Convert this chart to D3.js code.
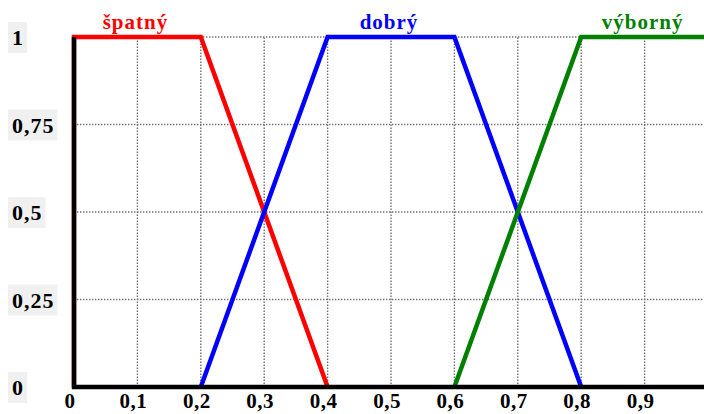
<!DOCTYPE html>
<html><head><meta charset="utf-8">
<script src="https://cdn.jsdelivr.net/npm/d3@7"></script>
<style>body{margin:0;background:#fff}svg{display:block}</style>
</head><body>
<svg id="c" width="704" height="414"></svg>
<script>
const xTicks = [0,0.1,0.2,0.3,0.4,0.5,0.6,0.7,0.8,0.9];
const xTickLabels = ["0","0,1","0,2","0,3","0,4","0,5","0,6","0,7","0,8","0,9"];
const yTicks = [0,0.25,0.5,0.75,1];
const yTickLabels = ["0","0,25","0,5","0,75","1"];
const seriesNames = ["špatný","dobrý","výborný"];
const seriesColors = ["#ff0000","#0000ff","#008000"];
const seriesLabelX = [0.1,0.5,0.9];
const spatnyX = [0,0,0.2,0.4];
const spatnyY = [0,1,1,0];
const dobryX = [0.2,0.4,0.6,0.8];
const dobryY = [0,1,1,0];
const vybornyX = [0.6,0.8,1];
const vybornyY = [0,1,1];

const svg = d3.select("#c");
const x = d3.scaleLinear().domain([0,1]).range([74,708]);
const y = d3.scaleLinear().domain([0,1]).range([387,37]);
const FONT = "'Liberation Serif','Times New Roman',serif";

// grid
const g = svg.append("g");
g.selectAll(".vg").data(xTicks.slice(1).concat([1])).enter().append("line")
  .attr("x1",d=>x(d)).attr("x2",d=>x(d)).attr("y1",y(0)).attr("y2",y(1))
  .attr("stroke","#707070").attr("stroke-width",1.4).attr("stroke-dasharray","1.4,1.6");
g.selectAll(".hg").data(yTicks.slice(1)).enter().append("line")
  .attr("x1",x(0)).attr("x2",x(1)).attr("y1",d=>y(d)).attr("y2",d=>y(d))
  .attr("stroke","#707070").attr("stroke-width",1.4).attr("stroke-dasharray","1.4,1.6");

// series
const series = [[spatnyX,spatnyY],[dobryX,dobryY],[vybornyX,vybornyY]];
const line = d3.line().x(d=>x(d[0])).y(d=>y(d[1]));
series.forEach((s,i)=>{
  const pts = s[0].map((v,j)=>[v,s[1][j]]);
  svg.append("path").attr("d",line(pts)).attr("fill","none")
    .attr("stroke",seriesColors[i]).attr("stroke-width",4.5).attr("stroke-linejoin","miter");
});

// axes
svg.append("line").attr("x1",x(0)).attr("x2",x(0)).attr("y1",y(1)).attr("y2",y(0)+2)
  .attr("stroke","#000").attr("stroke-width",4.5);
svg.append("line").attr("x1",x(0)-2).attr("x2",704).attr("y1",y(0)).attr("y2",y(0))
  .attr("stroke","#000").attr("stroke-width",4.5);

// series labels
seriesNames.forEach((n,i)=>{
  svg.append("text").attr("x",x(seriesLabelX[i])-2).attr("y",29)
    .attr("text-anchor","middle").attr("fill",seriesColors[i])
    .attr("font-family",FONT)
    .attr("font-weight","bold").attr("font-size",21).attr("letter-spacing",1).text(n);
});

// x tick labels
xTicks.forEach((t,i)=>{
  svg.append("text").attr("x",x(t)-4).attr("y",408).attr("text-anchor","middle")
    .attr("font-family",FONT).attr("letter-spacing",0.5)
    .attr("font-weight","bold").attr("font-size",21).attr("fill","#000").text(xTickLabels[i]);
});

// y tick labels with boxes
yTicks.forEach((t,i)=>{
  const tg = svg.append("g");
  const txt = tg.append("text").attr("x",12).attr("y",y(t)+8)
    .attr("font-family",FONT).attr("letter-spacing",1)
    .attr("font-weight","bold").attr("font-size",22).attr("fill","#000").text(yTickLabels[i]);
  const bb = txt.node().getBBox();
  tg.insert("rect","text").attr("x",8).attr("y",y(t)-15)
    .attr("width",bb.width+7).attr("height",31).attr("fill","#f0f0f0");
});
</script>
</body></html>
